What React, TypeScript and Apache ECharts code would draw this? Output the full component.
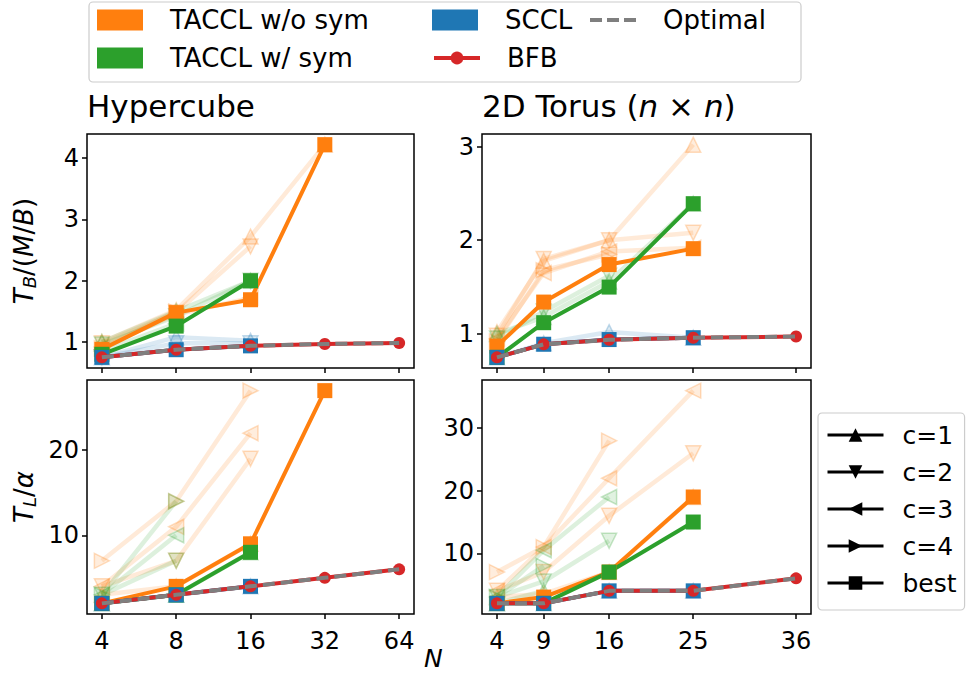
import React, { useEffect, useRef } from "react";
import * as echarts from "echarts";

const FONT = "DejaVu Sans";

// x values
const HC_N = [4, 8, 16, 32, 64];
const TO_N = [4, 9, 16, 25, 36];

// tick labels
const HC_TB_TICKS = [1, 2, 3, 4];
const TO_TB_TICKS = [1, 2, 3];
const HC_TL_TICKS = [10, 20];
const TO_TL_TICKS = [10, 20, 30];

// Hypercube, T_B/(M/B)
const HC_TB_WO_C1 = [1.0, 1.52, 2.72, 4.22];
const HC_TB_WO_C2 = [0.98, 1.48, 2.56];
const HC_TB_WO_C3 = [0.92, 1.45, 1.72];
const HC_TB_WO_C4 = [0.9, 1.5];
const HC_TB_WO_BEST = [0.88, 1.48, 1.69, 4.22];
const HC_TB_W_C1 = [1.0, 1.5, 2.0];
const HC_TB_W_C2 = [0.96, 1.42, 2.0];
const HC_TB_W_C3 = [0.85, 1.3];
const HC_TB_W_C4: number[] = [];
const HC_TB_W_BEST = [0.8, 1.26, 2.0];
const HC_TB_SCCL_C1 = [0.75, 1.08, 1.02];
const HC_TB_SCCL_C2 = [0.75, 0.98, 0.98];
const HC_TB_SCCL_BEST = [0.75, 0.875, 0.9375];
const HC_TB_BFB = [0.75, 0.875, 0.9375, 0.96875, 0.984375];

// 2D Torus, T_B/(M/B)
const TO_TB_WO_C1 = [1.02, 1.78, 2.0, 3.02];
const TO_TB_WO_C2 = [0.98, 1.8, 2.0, 2.08];
const TO_TB_WO_C3 = [0.95, 1.65, 1.88, 1.92];
const TO_TB_WO_C4 = [0.92, 1.68, 1.85];
const TO_TB_WO_BEST = [0.87, 1.34, 1.74, 1.91];
const TO_TB_W_C1 = [1.0, 1.18, 1.56, 2.39];
const TO_TB_W_C2 = [0.95, 1.24, 1.62];
const TO_TB_W_C3: number[] = [];
const TO_TB_W_C4: number[] = [];
const TO_TB_W_BEST = [0.75, 1.12, 1.5, 2.39];
const TO_TB_SCCL_C1 = [0.75, 0.9, 1.02, 0.96];
const TO_TB_SCCL_C2: number[] = [];
const TO_TB_SCCL_BEST = [0.75, 0.89, 0.94, 0.96];
const TO_TB_BFB = [0.75, 0.889, 0.9375, 0.96, 0.972];

// Hypercube, T_L/alpha
const HC_TL_WO_C1 = [3, 4, 9];
const HC_TL_WO_C2 = [4, 7, 19];
const HC_TL_WO_C3 = [4, 11, 22];
const HC_TL_WO_C4 = [7, 14, 27];
const HC_TL_WO_BEST = [2, 4, 9, 27];
const HC_TL_W_C1 = [2, 3, 8];
const HC_TL_W_C2 = [3, 7];
const HC_TL_W_C3 = [3, 10];
const HC_TL_W_C4 = [3, 14];
const HC_TL_W_BEST = [2, 3, 8];
const HC_TL_SCCL_C1 = [2, 3, 4];
const HC_TL_SCCL_C2: number[] = [];
const HC_TL_SCCL_BEST = [2, 3, 4];
const HC_TL_BFB = [2, 3, 4, 5, 6];

// 2D Torus, T_L/alpha
const TO_TL_WO_C1 = [3, 3.5, 7, 19];
const TO_TL_WO_C2 = [4, 7, 16, 26];
const TO_TL_WO_C3 = [4, 11, 22, 36];
const TO_TL_WO_C4 = [7, 11, 28];
const TO_TL_WO_BEST = [2, 3, 7, 19];
const TO_TL_W_C1 = [2, 4];
const TO_TL_W_C2 = [3, 5.5, 12];
const TO_TL_W_C3 = [3, 10.5, 19];
const TO_TL_W_C4 = [3, 8];
const TO_TL_W_BEST = [2, 2, 7, 15];
const TO_TL_SCCL_C1 = [2, 2, 4, 4];
const TO_TL_SCCL_C2: number[] = [];
const TO_TL_SCCL_BEST = [2, 2, 4, 4];
const TO_TL_BFB = [2, 2, 4, 4, 6];

const ORANGE = [255, 127, 14];
const GREEN = [44, 160, 44];
const BLUE = [31, 119, 180];
const RED = "#d62728";
const GRAY = "#7f7f7f";

const rgba = (c: number[], a: number) => `rgba(${c[0]},${c[1]},${c[2]},${a})`;

const UP = "path://M5,0L10,10L0,10Z";
const DOWN = "path://M0,0L10,0L5,10Z";
const LEFT = "path://M0,5L10,0L10,10Z";
const RIGHT = "path://M0,0L10,5L0,10Z";
const SYMS = [UP, DOWN, LEFT, RIGHT];
const DASHES = "path://M0,0H12V4H0Z M17,0H29V4H17Z M34,0H46V4H34Z";

const pts = (xs: number[], ys: number[]) => ys.map((y, i) => [xs[i], y]);

type PanelData = {
  xs: number[];
  wo: number[][];
  w: number[][];
  sccl: number[][];
  bfb: number[];
};

const PANELS: PanelData[] = [
  {
    xs: HC_N,
    wo: [HC_TB_WO_C1, HC_TB_WO_C2, HC_TB_WO_C3, HC_TB_WO_C4, HC_TB_WO_BEST],
    w: [HC_TB_W_C1, HC_TB_W_C2, HC_TB_W_C3, HC_TB_W_C4, HC_TB_W_BEST],
    sccl: [HC_TB_SCCL_C1, HC_TB_SCCL_C2, [], [], HC_TB_SCCL_BEST],
    bfb: HC_TB_BFB,
  },
  {
    xs: TO_N,
    wo: [TO_TB_WO_C1, TO_TB_WO_C2, TO_TB_WO_C3, TO_TB_WO_C4, TO_TB_WO_BEST],
    w: [TO_TB_W_C1, TO_TB_W_C2, TO_TB_W_C3, TO_TB_W_C4, TO_TB_W_BEST],
    sccl: [TO_TB_SCCL_C1, TO_TB_SCCL_C2, [], [], TO_TB_SCCL_BEST],
    bfb: TO_TB_BFB,
  },
  {
    xs: HC_N,
    wo: [HC_TL_WO_C1, HC_TL_WO_C2, HC_TL_WO_C3, HC_TL_WO_C4, HC_TL_WO_BEST],
    w: [HC_TL_W_C1, HC_TL_W_C2, HC_TL_W_C3, HC_TL_W_C4, HC_TL_W_BEST],
    sccl: [HC_TL_SCCL_C1, HC_TL_SCCL_C2, [], [], HC_TL_SCCL_BEST],
    bfb: HC_TL_BFB,
  },
  {
    xs: TO_N,
    wo: [TO_TL_WO_C1, TO_TL_WO_C2, TO_TL_WO_C3, TO_TL_WO_C4, TO_TL_WO_BEST],
    w: [TO_TL_W_C1, TO_TL_W_C2, TO_TL_W_C3, TO_TL_W_C4, TO_TL_W_BEST],
    sccl: [TO_TL_SCCL_C1, TO_TL_SCCL_C2, [], [], TO_TL_SCCL_BEST],
    bfb: TO_TL_BFB,
  },
];

function buildSeries(): any[] {
  const faint: any[] = [];
  const solid: any[] = [];
  PANELS.forEach((p, gi) => {
    const groups: [string, number[], number[][]][] = [
      ["TACCL w/o sym", ORANGE, p.wo],
      ["TACCL w/ sym", GREEN, p.w],
      ["SCCL", BLUE, p.sccl],
    ];
    groups.forEach(([name, col, arrs]) => {
      for (let c = 0; c < 4; c++) {
        if (!arrs[c] || arrs[c].length === 0) continue;
        faint.push({
          type: "line",
          name: `${name} c=${c + 1}`,
          xAxisIndex: gi,
          yAxisIndex: gi,
          data: pts(p.xs, arrs[c]),
          symbol: SYMS[c],
          symbolSize: 15,
          silent: true,
          lineStyle: { color: rgba(col, 0.16), width: 4.5 },
          itemStyle: { color: rgba(col, 0.14), borderColor: rgba(col, 0.26), borderWidth: 1.5 },
          emphasis: { disabled: true },
          z: 2,
        });
      }
    });
    groups.forEach(([name, col, arrs]) => {
      solid.push({
        type: "line",
        name,
        xAxisIndex: gi,
        yAxisIndex: gi,
        data: pts(p.xs, arrs[4]),
        symbol: "rect",
        symbolSize: 15,
        silent: true,
        lineStyle: { color: rgba(col, 1), width: 4 },
        itemStyle: { color: rgba(col, 1) },
        emphasis: { disabled: true },
        z: 3,
      });
    });
    solid.push({
      type: "line",
      name: "BFB",
      xAxisIndex: gi,
      yAxisIndex: gi,
      data: pts(p.xs, p.bfb),
      symbol: "circle",
      symbolSize: 12,
      silent: true,
      lineStyle: { color: RED, width: 4 },
      itemStyle: { color: RED },
      emphasis: { disabled: true },
      z: 4,
    });
    solid.push({
      type: "line",
      name: "Optimal",
      xAxisIndex: gi,
      yAxisIndex: gi,
      data: pts(p.xs, p.bfb),
      symbol: "none",
      silent: true,
      lineStyle: { color: GRAY, width: 4, type: [12, 6] },
      itemStyle: { color: GRAY },
      emphasis: { disabled: true },
      z: 5,
    });
  });
  const dummies = ["c=1", "c=2", "c=3", "c=4", "best"].map((n, i) => ({
    type: "line",
    name: n,
    xAxisIndex: 0,
    yAxisIndex: 0,
    data: [],
    symbol: i < 4 ? SYMS[i] : "rect",
    symbolSize: 14,
    lineStyle: { color: "#000", width: 3 },
    itemStyle: { color: "#000" },
  }));
  return [...faint, ...solid, ...dummies];
}

const GRIDS = [
  { left: 87, top: 134, width: 327, height: 234 },
  { left: 482, top: 134, width: 329, height: 234 },
  { left: 87, top: 380, width: 327, height: 234 },
  { left: 482, top: 380, width: 329, height: 234 },
];

const tickStyle = { show: true, length: 5, lineStyle: { color: "#000", width: 1.5 } };
const labelStyle = { fontSize: 24, color: "#000", fontFamily: FONT };

function xAxis(gi: number) {
  const hc = gi % 2 === 0;
  const ticks = hc ? HC_N : TO_N;
  const base: any = {
    gridIndex: gi,
    axisLine: { show: false },
    splitLine: { show: false },
    axisTick: { ...tickStyle, customValues: ticks },
    axisLabel: {
      show: gi >= 2,
      customValues: ticks,
      margin: 15,
      formatter: (v: number) => String(Math.round(v)),
      ...labelStyle,
    },
  };
  if (hc) {
    base.type = "log";
    base.logBase = 2;
    base.min = Math.pow(2, 1.8);
    base.max = Math.pow(2, 6.2);
  } else {
    base.type = "value";
    base.min = 2.4;
    base.max = 37.6;
  }
  if (gi === 2) {
    base.name = "N";
    base.nameLocation = "end";
    base.nameGap = 10;
    base.nameTextStyle = {
      fontSize: 25,
      fontStyle: "italic",
      fontFamily: FONT,
      color: "#000",
      verticalAlign: "top",
      align: "left",
      padding: [32, 0, 0, 0],
    };
  }
  return base;
}

const RICH = {
  i: { fontSize: 26, fontStyle: "italic", fontFamily: FONT, color: "#000" },
  n: { fontSize: 26, fontFamily: FONT, color: "#000" },
  s: { fontSize: 18, fontStyle: "italic", fontFamily: FONT, color: "#000", padding: [11, 0, 0, 0] },
};

function yAxis(gi: number) {
  const ranges: [number, number, number[]][] = [
    [0.5765, 4.3935, HC_TB_TICKS],
    [0.6365, 3.1335, TO_TB_TICKS],
    [0.75, 28.25, HC_TL_TICKS],
    [0.3, 37.7, TO_TL_TICKS],
  ];
  const [min, max, ticks] = ranges[gi];
  const ax: any = {
    type: "value",
    gridIndex: gi,
    min,
    max,
    axisLine: { show: false },
    splitLine: { show: false },
    axisTick: { ...tickStyle, customValues: ticks },
    axisLabel: { customValues: ticks, margin: 8, ...labelStyle },
  };
  if (gi === 0 || gi === 2) {
    ax.name = gi === 0 ? "{i|T}{s|B}{n|/(}{i|M}{n|/}{i|B}{n|)}" : "{i|T}{s|L}{n|/}{i|α}";
    ax.nameLocation = "middle";
    ax.nameRotate = 90;
    ax.nameGap = 49;
    ax.nameTextStyle = { rich: RICH };
  }
  return ax;
}

export default function App() {
  const ref = useRef<HTMLDivElement>(null);
  useEffect(() => {
    if (!ref.current) return;
    const chart = echarts.init(ref.current, undefined, { renderer: "svg" });
    const legText = { fontSize: 26, color: "#000", fontFamily: FONT, lineHeight: 28 };
    const option: any = {
      animation: false,
      backgroundColor: "#fff",
      textStyle: { fontFamily: FONT },
      title: [
        {
          text: "Hypercube",
          left: 87,
          top: 90,
          padding: 0,
          textStyle: { fontSize: 31, fontWeight: "normal", fontFamily: FONT, color: "#000" },
        },
        {
          text: "2D Torus ({i|n} × {i|n})",
          left: 482,
          top: 90,
          padding: 0,
          textStyle: {
            fontSize: 31,
            fontWeight: "normal",
            fontFamily: FONT,
            color: "#000",
            rich: { i: { fontSize: 31, fontStyle: "italic", fontFamily: FONT, color: "#000" } },
          },
        },
      ],
      grid: GRIDS.map((g) => ({
        ...g,
        show: true,
        borderColor: "#000",
        borderWidth: 1.5,
        backgroundColor: "transparent",
        containLabel: false,
        outerBoundsMode: "none",
      })),
      xAxis: [0, 1, 2, 3].map(xAxis),
      yAxis: [0, 1, 2, 3].map(yAxis),
      legend: [
        {
          data: [
            { name: "TACCL w/o sym", icon: "rect" },
            { name: "TACCL w/ sym", icon: "rect" },
          ],
          orient: "vertical",
          left: 97,
          top: 6,
          padding: 0,
          itemWidth: 46,
          itemHeight: 21,
          itemGap: 10,
          selectedMode: false,
          textStyle: { ...legText, padding: [0, 0, 0, 22] },
        },
        {
          data: [{ name: "SCCL", icon: "rect" }],
          orient: "vertical",
          left: 432,
          top: 6,
          padding: 0,
          itemWidth: 46,
          itemHeight: 21,
          selectedMode: false,
          textStyle: { ...legText, padding: [0, 0, 0, 22] },
        },
        {
          data: ["BFB"],
          orient: "vertical",
          left: 432,
          top: 44,
          padding: 0,
          itemWidth: 46,
          itemHeight: 16,
          selectedMode: false,
          lineStyle: { width: 4 },
          textStyle: { ...legText, padding: [0, 0, 0, 22] },
        },
        {
          data: [{ name: "Optimal", icon: DASHES }],
          orient: "vertical",
          left: 590,
          top: 6,
          padding: 0,
          itemWidth: 46,
          itemHeight: 4,
          selectedMode: false,
          itemStyle: { color: GRAY, borderWidth: 0 },
          lineStyle: { width: 0 },
          textStyle: { ...legText, padding: [0, 0, 0, 22] },
        },
        {
          data: ["c=1", "c=2", "c=3", "c=4", "best"],
          orient: "vertical",
          left: 818,
          top: 413,
          padding: [8, 8, 13, 8],
          itemWidth: 56,
          itemHeight: 17,
          itemGap: 9,
          selectedMode: false,
          borderColor: "#cccccc",
          borderWidth: 1.2,
          borderRadius: 4,
          backgroundColor: "#fff",
          lineStyle: { width: 3 },
          textStyle: { ...legText, fontSize: 25, padding: [0, 0, 0, 14] },
        },
      ],
      graphic: [
        {
          type: "rect",
          shape: { x: 89, y: 2, width: 712, height: 80, r: 4 },
          style: { fill: "rgba(255,255,255,0.8)", stroke: "#cccccc", lineWidth: 1.2 },
          z: -1,
          silent: true,
        },
      ],
      series: buildSeries(),
    };
    chart.setOption(option);
    return () => chart.dispose();
  }, []);
  return <div ref={ref} style={{ position: "fixed", left: 0, top: 0, width: 968, height: 674 }} />;
}
